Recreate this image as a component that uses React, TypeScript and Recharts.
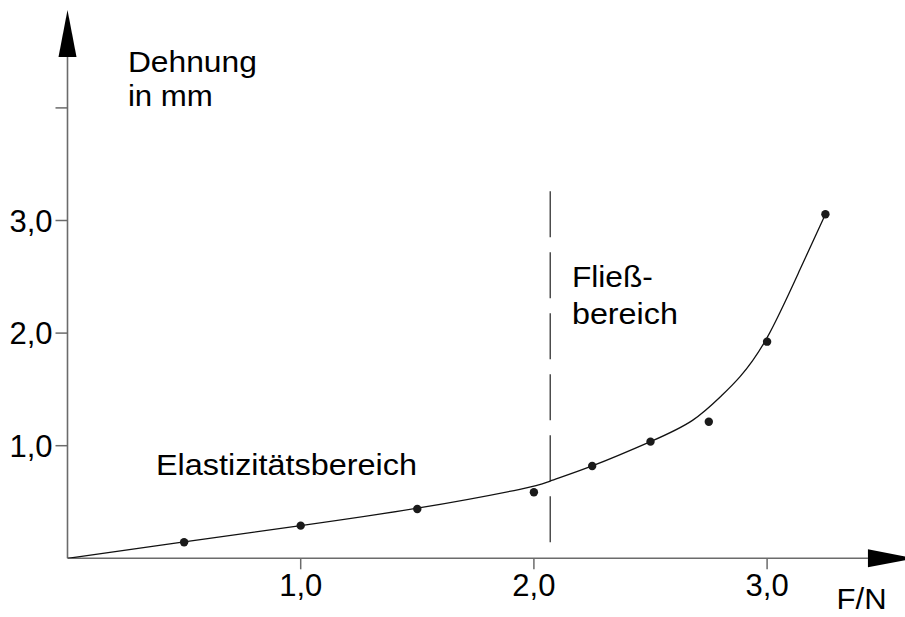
import React from "react";
import {
  ComposedChart,
  Line,
  Scatter,
  XAxis,
  YAxis,
  ReferenceLine,
  ReferenceDot,
} from "recharts";

// Measured points (Kraft F in N, Dehnung in mm)
const pointForce = [0.5, 1.0, 1.5, 2.0, 2.25, 2.5, 2.75, 3.0, 3.25];
const pointStretch = [0.142, 0.29, 0.438, 0.586, 0.82, 1.036, 1.213, 1.924, 3.055];

// Hand-drawn smooth curve
const curveForce = [0, 0.5, 1.0, 1.5, 1.94, 2.07, 2.25, 2.5, 2.68, 2.8, 2.884, 3.0, 3.14, 3.25];
const curveStretch = [0, 0.145, 0.29, 0.445, 0.613, 0.686, 0.82, 1.036, 1.225, 1.435, 1.613, 1.96, 2.56, 3.055];

// Axis ticks
const xTicks = [1, 2, 3];
const yTicks = [1, 2, 3, 4];
const yLabelled = [1, 2, 3];

// Boundary between elastic and yield region
const yieldForce = 2.07;
const yieldSpan = [3.26, 0.12];

const points = pointForce.map((x, i) => ({ x, y: pointStretch[i] }));
const curve = curveForce.map((x, i) => ({ x, y: curveStretch[i] }));

const FONT = "'Liberation Sans', Arial, Helvetica, sans-serif";
const AXIS_GRAY = "#6b6b6b";

const fmt = (v: number) =>
  yLabelled.includes(v) ? v.toFixed(1).replace(".", ",") : "";

const ArrowAxis = (props: any) => {
  const { x1, y1, x2, y2 } = props;
  const dx = x2 - x1;
  const dy = y2 - y1;
  const len = Math.hypot(dx, dy) || 1;
  const ux = dx / len;
  const uy = dy / len;
  const L = 47;
  const W = 9;
  const bx = x2 - ux * L;
  const by = y2 - uy * L;
  const px = -uy;
  const py = ux;
  return (
    <g>
      <line x1={x1} y1={y1} x2={bx} y2={by} stroke={AXIS_GRAY} strokeWidth={1.6} />
      <polygon
        points={`${x2},${y2} ${bx + px * W},${by + py * W} ${bx - px * W},${by - py * W}`}
        fill="#000"
      />
    </g>
  );
};

const textShape =
  (lines: string[], lengths: number[], lineGap: number) => (p: any) =>
    (
      <text x={p.cx} y={p.cy} fontFamily={FONT} fontSize={29} fill="#000">
        {lines.map((t, i) => (
          <tspan
            key={i}
            x={p.cx}
            y={p.cy + i * lineGap}
            textLength={lengths[i]}
            lengthAdjust="spacingAndGlyphs"
          >
            {t}
          </tspan>
        ))}
      </text>
    );

const Dot = (p: any) => <circle cx={p.cx} cy={p.cy} r={4.2} fill="#1a1a1a" />;

export default function App() {
  return (
    <div style={{ position: "absolute", left: 0, top: 0, background: "#fff" }}>
      <ComposedChart
        width={905}
        height={617}
        margin={{ top: 51.6, right: 21.3, bottom: 0, left: 0 }}
        style={{ fontFamily: FONT }}
      >
        <XAxis
          dataKey="x"
          type="number"
          domain={[0, 3.5]}
          ticks={xTicks}
          tickFormatter={(v: number) => v.toFixed(1).replace(".", ",")}
          axisLine={false}
          tickLine={{ stroke: AXIS_GRAY, strokeWidth: 1.5 }}
          tickSize={11}
          tickMargin={5}
          height={58.7}
          tick={{ fill: "#000", fontSize: 31, fontFamily: FONT }}
          allowDataOverflow
        />
        <YAxis
          dataKey="y"
          type="number"
          domain={[0, 4.5]}
          ticks={yTicks}
          tickFormatter={fmt}
          axisLine={false}
          tickLine={{ stroke: AXIS_GRAY, strokeWidth: 1.5 }}
          tickSize={12}
          tickMargin={3}
          width={67.5}
          tick={{ fill: "#000", fontSize: 31, fontFamily: FONT }}
          allowDataOverflow
        />

        {/* axes with arrows */}
        <ReferenceLine
          segment={[{ x: 0, y: 0 }, { x: 3.634, y: 0 }]}
          ifOverflow="visible"
          shape={ArrowAxis}
        />
        <ReferenceLine
          segment={[{ x: 0, y: 0 }, { x: 0, y: 4.87 }]}
          ifOverflow="visible"
          shape={ArrowAxis}
        />

        {/* yield boundary */}
        <ReferenceLine
          segment={[
            { x: yieldForce, y: yieldSpan[0] },
            { x: yieldForce, y: yieldSpan[1] },
          ]}
          ifOverflow="visible"
          stroke="#333"
          strokeWidth={1.3}
          strokeDasharray="46 15"
        />

        <Line
          data={curve}
          dataKey="y"
          type="natural"
          stroke="#111"
          strokeWidth={1.3}
          dot={false}
          activeDot={false}
          isAnimationActive={false}
        />
        <Scatter
          data={points}
          dataKey="y"
          shape={Dot}
          isAnimationActive={false}
        />

        {/* annotations */}
        <ReferenceDot
          x={0.259}
          y={4.32}
          r={0}
          ifOverflow="visible"
          shape={textShape(["Dehnung", "in mm"], [129, 85], 34)}
        />
        <ReferenceDot
          x={0.3795}
          y={0.74}
          r={0}
          ifOverflow="visible"
          shape={textShape(["Elastizitätsbereich"], [261], 0)}
        />
        <ReferenceDot
          x={2.163}
          y={2.41}
          r={0}
          ifOverflow="visible"
          shape={textShape(["Fließ-", "bereich"], [81, 106], 37)}
        />
        <ReferenceDot
          x={3.298}
          y={-0.45}
          r={0}
          ifOverflow="visible"
          shape={textShape(["F/N"], [50], 0)}
        />
      </ComposedChart>
    </div>
  );
}
